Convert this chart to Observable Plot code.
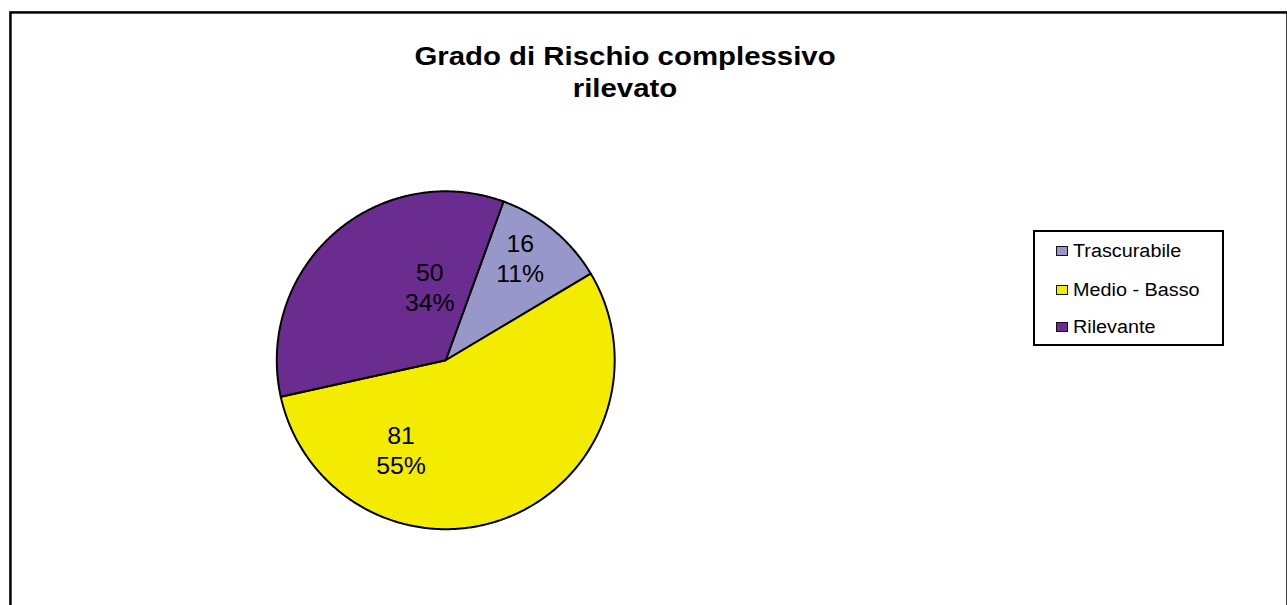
<!DOCTYPE html>
<html>
<head>
<meta charset="utf-8">
<script src="https://cdn.jsdelivr.net/npm/d3@7"></script>
<script src="https://cdn.jsdelivr.net/npm/@observablehq/plot@0.6"></script>
<style>
html, body { margin: 0; padding: 0; background: #fff; overflow: hidden; width: 1287px; height: 605px; }
#wrap { position: relative; width: 1287px; height: 605px; overflow: hidden; font-family: "Liberation Sans", Arial, Helvetica, sans-serif; }
#chart { position: absolute; left: 0; top: 0; }
#title { position: absolute; left: 375px; width: 500px; top: 40px; text-align: center; font-weight: bold; font-size: 26px; line-height: 32px; color: #000; transform: scaleX(1.13); transform-origin: 250px 0; }
#legend { position: absolute; left: 1033px; top: 230px; width: 191px; height: 116px; box-sizing: border-box; border: 2px solid #000; background: #fff; }
.row { position: absolute; left: 0; height: 20px; line-height: 20px; white-space: nowrap; }
.sw { position: absolute; left: 21px; top: 5px; width: 12px; height: 10px; box-sizing: border-box; border: 1.5px solid #111; }
.lt { position: absolute; left: 38px; top: 0; font-size: 18px; color: #000; transform: scaleX(1.1); transform-origin: 0 0; }
</style>
</head>
<body>
<div id="wrap">
  <div id="chart"></div>
  <div id="title"></div>
  <div id="legend"></div>
</div>
<script>
// ---- data ----
const categories = ["Trascurabile", "Medio - Basso", "Rilevante"];
const counts = [16, 81, 50];
const percentLabels = ["11%", "55%", "34%"];
const colors = ["#9797c9", "#f3eb00", "#6a2c8e"];
const titleLines = ["Grado di Rischio complessivo", "rilevato"];

// ---- layout (pixels / degrees) ----
const W = 1295, H = 612, mL = 10, mT = 12;
const cx = 448, cy = 362, R = 170;
const startDeg = 20;
// label placement (angle clockwise from top, radius as fraction of R), per category
const labelPlacement = [
  {deg: 36, r: 0.75},
  {deg: 206.6, r: 0.59},
  {deg: 347.8, r: 0.445}
];

const rows = categories.map((c, i) => ({cat: c, count: counts[i], pct: percentLabels[i], i}));

const a0 = startDeg * Math.PI / 180;
const arcs = d3.pie().sort(null).value(d => d.count).startAngle(a0).endAngle(a0 + 2 * Math.PI)(rows);

const pts = [];
for (const a of arcs) {
  const cat = a.data.cat;
  pts.push({cat, x: 0, y: 0});
  const n = Math.max(2, Math.ceil((a.endAngle - a.startAngle) / (Math.PI / 360)));
  for (let k = 0; k <= n; k++) {
    const t = a.startAngle + (a.endAngle - a.startAngle) * k / n;
    pts.push({cat, x: Math.sin(t), y: Math.cos(t)});
  }
  pts.push({cat, x: 0, y: 0});
}

const labels = rows.map((d, i) => {
  const p = labelPlacement[i];
  const t = p.deg * Math.PI / 180;
  return {...d, x: p.r * Math.sin(t), y: p.r * Math.cos(t)};
});

const chart = Plot.plot({
  width: W, height: H,
  marginLeft: mL, marginTop: mT, marginRight: 0, marginBottom: 0,
  x: {domain: [(mL - cx) / R, (W - cx) / R], axis: null},
  y: {domain: [(cy - H) / R, (cy - mT) / R], axis: null},
  color: {domain: categories, range: colors},
  style: {fontFamily: '"Liberation Sans", Arial, sans-serif', background: "transparent", overflow: "visible"},
  marks: [
    Plot.frame({stroke: "#000", strokeWidth: 2.5}),
    Plot.line(pts, {x: "x", y: "y", z: "cat", fill: "cat", stroke: "#000", strokeWidth: 2, strokeLinejoin: "round", curve: "linear"}),
    Plot.text(labels, {x: "x", y: "y", text: d => `${d.count}\n${d.pct}`, fontSize: 25, lineHeight: 1.2, fill: "#000", lineAnchor: "middle", textAnchor: "middle"})
  ]
});
document.getElementById("chart").appendChild(chart);

// title
document.getElementById("title").innerHTML = titleLines.map(s => `<div>${s}</div>`).join("");

// legend
const rowCenters = [21, 60, 97];
const legend = document.getElementById("legend");
rows.forEach((d, i) => {
  const r = document.createElement("div");
  r.className = "row";
  r.style.top = (rowCenters[i] - 2 - 10) + "px";
  r.style.width = "180px";
  const sw = document.createElement("div");
  sw.className = "sw";
  sw.style.background = colors[i];
  const t = document.createElement("div");
  t.className = "lt";
  t.textContent = d.cat;
  r.appendChild(sw); r.appendChild(t);
  legend.appendChild(r);
});
</script>
</body>
</html>
